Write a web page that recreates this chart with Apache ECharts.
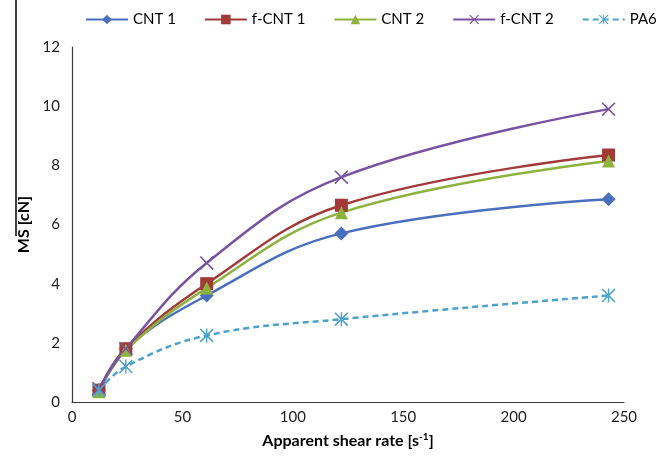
<!DOCTYPE html>
<html lang="en">
<head>
    <meta charset="UTF-8">
    <title>MS vs apparent shear rate</title>
    <style>
        html, body {
            margin: 0;
            padding: 0;
            background: #fff;
        }

        #myEcharts {
            width: 669px;
            height: 458px;
        }
    </style>
    <script src="https://cdn.jsdelivr.net/npm/echarts@6/dist/echarts.min.js"></script>
</head>

<body>
<div id="myEcharts"></div>

<script>
    // apparent shear rate [1/s]
    var shearRate = [12.2, 24.4, 61, 122, 243];
    // melt strength [cN]
    var cnt1 = [0.4, 1.8, 3.6, 5.7, 6.85];
    var fcnt1 = [0.4, 1.8, 4.0, 6.65, 8.35];
    var cnt2 = [0.35, 1.75, 3.85, 6.4, 8.15];
    var fcnt2 = [0.45, 1.8, 4.7, 7.6, 9.9];
    var pa6 = [0.4, 1.2, 2.25, 2.8, 3.6];

    var seriesNames = ['CNT 1', 'f-CNT 1', 'CNT 2', 'f-CNT 2', 'PA6'];

    // marker shapes
    var crossPath = 'path://M0,0.8L0.8,0L5,4.2L9.2,0L10,0.8L5.8,5L10,9.2L9.2,10L5,5.8L0.8,10L0,9.2L4.2,5Z';
    var starPath = 'path://M4.5,0h1v10h-1z M0,0.8L0.8,0L10,9.2L9.2,10z M9.2,0L10,0.8L0.8,10L0,9.2z';

    function pairs(ys) {
        var out = [];
        for (var i = 0; i < shearRate.length; i++) {
            out.push([shearRate[i], ys[i]]);
        }
        return out;
    }

    function makeSeries(name, ys, color, symbol, size, dashed) {
        return {
            name: name,
            type: 'line',
            smooth: 0.4,
            data: pairs(ys),
            symbol: symbol,
            symbolSize: size,
            color: color,
            lineStyle: {
                color: color,
                width: 2.5,
                type: dashed ? [6, 4] : 'solid'
            },
            itemStyle: {
                color: color
            },
            z: 2
        };
    }

    var myChart = echarts.init(document.getElementById('myEcharts'));

    var axisFont = 'Lato, "Open Sans", sans-serif';

    var option = {
        animation: false,
        backgroundColor: '#fff',
        legend: {
            top: 7,
            left: 80,
            right: 0,
            itemWidth: 42,
            itemHeight: 12,
            itemGap: 28,
            data: seriesNames,
            textStyle: {
                fontFamily: axisFont,
                fontSize: 15,
                color: '#000'
            }
        },
        grid: {
            left: 72,
            right: 45,
            top: 47,
            bottom: 56
        },
        xAxis: {
            type: 'value',
            min: 0,
            max: 250,
            interval: 50,
            name: '{t|Apparent shear rate [s}{s|-1}{t|]}',
            nameLocation: 'middle',
            nameGap: 30,
            nameTextStyle: {
                rich: {
                    t: {fontFamily: axisFont, fontSize: 16, fontWeight: 'bold', color: '#000'},
                    s: {fontFamily: axisFont, fontSize: 10, fontWeight: 'bold', color: '#000', verticalAlign: 'top', padding: [0, 0, 8, 0]}
                }
            },
            axisLine: {lineStyle: {color: '#3a3a3a', width: 1.2}},
            axisTick: {show: false},
            splitLine: {show: false},
            axisLabel: {
                fontFamily: axisFont,
                fontSize: 15,
                color: '#222',
                margin: 8
            }
        },
        yAxis: {
            type: 'value',
            min: 0,
            max: 12,
            interval: 2,
            name: 'MS [cN]',
            nameLocation: 'middle',
            nameRotate: 90,
            nameGap: 36,
            nameTextStyle: {
                fontFamily: axisFont,
                fontSize: 16,
                fontWeight: 'bold',
                color: '#000'
            },
            axisLine: {show: true, lineStyle: {color: '#3a3a3a', width: 1.2}},
            axisTick: {show: false},
            splitLine: {show: false},
            axisLabel: {
                fontFamily: axisFont,
                fontSize: 15,
                color: '#222',
                margin: 12
            }
        },
        graphic: [
            {
                // stray frame edge at the left of the source figure
                type: 'line',
                shape: {x1: 16, y1: 0, x2: 16, y2: 236},
                style: {stroke: '#000', lineWidth: 1.5}
            }
        ],
        series: [
            makeSeries('CNT 1', cnt1, '#4a6fbf', 'diamond', 14, false),
            makeSeries('f-CNT 1', fcnt1, '#a23b38', 'rect', 13, false),
            makeSeries('CNT 2', cnt2, '#8db33e', 'triangle', 13, false),
            makeSeries('f-CNT 2', fcnt2, '#7953a2', crossPath, 14, false),
            makeSeries('PA6', pa6, '#4aa3c8', starPath, 14, true)
        ]
    };

    myChart.setOption(option);
</script>
</body>
</html>
